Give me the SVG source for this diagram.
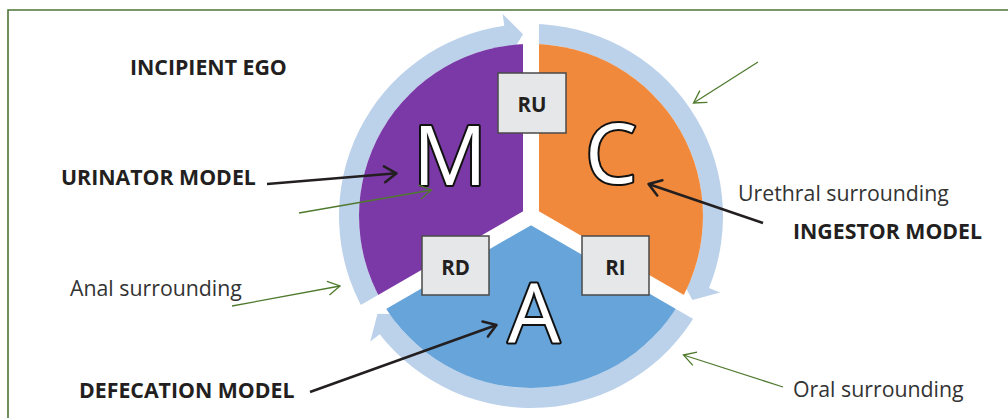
<svg xmlns="http://www.w3.org/2000/svg" width="1008" height="418" viewBox="0 0 1008 418">
<style>
.bold{font-family:"Open Sans","Liberation Sans",sans-serif;font-weight:bold;font-size:21.3px;fill:#231F20}
.reg{font-family:"Open Sans","Liberation Sans",sans-serif;font-size:21.3px;fill:#333333}
.box{fill:#E6E7E9;stroke:#4A4A4A;stroke-width:1.5}
.boxt{font-family:"Open Sans","Liberation Sans",sans-serif;font-weight:bold;font-size:20.5px;fill:#231F20;text-anchor:middle}
.big{font-family:"Open Sans","Liberation Sans",sans-serif;font-size:82px;fill:#FFFFFF;stroke:#111111;stroke-width:4;paint-order:stroke fill;text-anchor:middle;stroke-linejoin:round}
.ring{fill:#BCD1EA}
.gap{stroke:#FFFFFF;stroke-width:16;stroke-linecap:butt}
.blk{stroke:#231F20;stroke-width:2.5;fill:none}
.grn{stroke:#4F7A2E;stroke-width:1.3;fill:none}
</style>
<defs>
<marker id="ab" viewBox="0 0 16 20" refX="14" refY="10" markerWidth="16" markerHeight="20" markerUnits="userSpaceOnUse" orient="auto">
<path d="M2,2 L14,10 L2,18" fill="none" stroke="#231F20" stroke-width="2.5" stroke-linejoin="round" stroke-linecap="round"/>
</marker>
<marker id="ag" viewBox="0 0 16 20" refX="14" refY="10" markerWidth="16" markerHeight="20" markerUnits="userSpaceOnUse" orient="auto">
<path d="M2,3 L14,10 L2,17" fill="none" stroke="#4F7A2E" stroke-width="1.3"/>
</marker>
</defs>
<rect width="1008" height="418" fill="#FFFFFF"/>
<path d="M8,418 L8,10 L1008,10" fill="none" stroke="#4E7434" stroke-width="1.6"/>

<g id="cycle">
<g id="ring-arrows">
<path class="ring" d="M364.72,312 A192,192 0 0 1 504.28,25.87 L502.61,13.98 L523.06,34.17 L508.73,57.56 L507.06,45.67 A172,172 0 0 0 382.05,302 Z"/>
<path class="ring" d="M531,24 A192,192 0 0 1 709.02,287.93 L720.14,292.42 L692.44,300.04 L679.35,275.94 L690.47,280.43 A172,172 0 0 0 531,44 Z"/>
<path class="ring" d="M697.28,312 A192,192 0 0 1 379.70,334.21 L370.25,341.59 L377.50,313.79 L404.92,314.51 L395.46,321.89 A172,172 0 0 0 679.95,302 Z"/>
</g>
<g id="node-M">
<path d="M531,216 L382.05,302 A172,172 0 0 1 531,44 Z" fill="#7B39A7"/>
</g>
<g id="node-C">
<path d="M531,216 L531,44 A172,172 0 0 1 679.95,302 Z" fill="#F0893B"/>
</g>
<g id="node-A">
<path d="M531,216 L679.95,302 A172,172 0 0 1 382.05,302 Z" fill="#66A4D9"/>
</g>
<g id="gaps">
<line class="gap" x1="531" y1="216" x2="531" y2="20"/>
<line class="gap" x1="531" y1="216" x2="704.2" y2="316"/>
<line class="gap" x1="531" y1="216" x2="357.8" y2="316"/>
</g>
<text class="big" x="450" y="185">M</text>
<text class="big" x="611" y="183">C</text>
<text class="big" x="534" y="343">A</text>
</g>

<g id="node-RU">
<rect class="box" x="498" y="73" width="68" height="60"/>
<text class="boxt" x="532" y="112">RU</text>
</g>
<g id="node-RD">
<rect class="box" x="422" y="236" width="67" height="59"/>
<text class="boxt" x="455.5" y="274.5">RD</text>
</g>
<g id="node-RI">
<rect class="box" x="582" y="236" width="67" height="59"/>
<text class="boxt" x="615.5" y="274.5">RI</text>
</g>

<g id="node-incipient"><text class="bold" x="130" y="75">INCIPIENT EGO</text></g>
<g id="node-urinator"><text class="bold" x="61" y="185">URINATOR MODEL</text></g>
<g id="node-anal"><text class="reg" x="70" y="296">Anal surrounding</text></g>
<g id="node-defecation"><text class="bold" x="79" y="398">DEFECATION MODEL</text></g>
<g id="node-urethral"><text class="reg" x="738" y="201">Urethral surrounding</text></g>
<g id="node-ingestor"><text class="bold" x="793" y="239">INGESTOR MODEL</text></g>
<g id="node-oral"><text class="reg" x="793" y="397">Oral surrounding</text></g>

<g id="connectors">
<line class="blk" x1="267" y1="184" x2="396.5" y2="173.3" marker-end="url(#ab)"/>
<line class="blk" x1="763" y1="223" x2="648.5" y2="184" marker-end="url(#ab)"/>
<line class="blk" x1="310" y1="392" x2="496.5" y2="325" marker-end="url(#ab)"/>
<line class="grn" x1="758" y1="62" x2="693.5" y2="103" marker-end="url(#ag)"/>
<line class="grn" x1="299" y1="213" x2="431.5" y2="190" marker-end="url(#ag)"/>
<line class="grn" x1="232" y1="306" x2="340" y2="286" marker-end="url(#ag)"/>
<line class="grn" x1="783" y1="387" x2="683.5" y2="355" marker-end="url(#ag)"/>
</g>
</svg>
